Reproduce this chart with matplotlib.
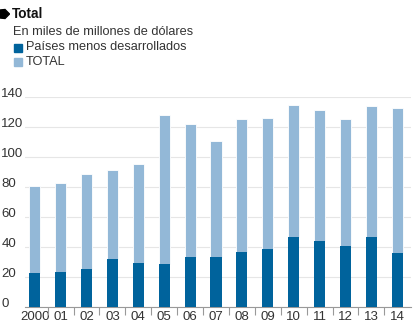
import numpy as np
import matplotlib.pyplot as plt
from matplotlib.patches import Rectangle, Polygon

plt.rcParams['font.family'] = ['Liberation Sans', 'DejaVu Sans']

years = ['2000', '01', '02', '03', '04', '05', '06', '07', '08', '09', '10', '11', '12', '13', '14']
total = [80.7, 82.7, 88.9, 91.2, 95.4, 128.2, 122.4, 110.6, 125.3, 126.4, 134.9, 131.5, 125.7, 134.2, 132.6]
pmd = [22.3, 23.4, 25.4, 31.7, 29.4, 28.8, 33.4, 33.2, 36.8, 38.6, 46.6, 44.1, 40.8, 46.4, 35.9]
yticks = [0, 20, 40, 60, 80, 100, 120, 140]

dark = '#00639c'
light = '#93b8d7'

fig = plt.figure(figsize=(4.14, 3.33), dpi=100)
ax = fig.add_axes([25/414, 1 - 306.7/333, 385.5/414, (306.7 - 97.3)/333])

x = np.arange(len(years))
rest = np.array(total) - np.array(pmd)
ax.bar(x, pmd, width=0.43, color=dark, zorder=3)
ax.bar(x, rest, bottom=pmd, width=0.43, color=light, edgecolor='white', linewidth=0.6, zorder=2)

ax.set_xlim(-0.375, 14.51)
ax.set_ylim(0, 140)
ax.set_yticks(yticks)
ax.yaxis.grid(True, color='#e6e6e6', linewidth=0.8, zorder=0)
ax.set_axisbelow(True)
for s in ['top', 'right', 'left']:
    ax.spines[s].set_visible(False)
ax.spines['bottom'].set_color('#999999')
ax.spines['bottom'].set_linewidth(0.8)

ax.tick_params(axis='y', length=0, pad=17, labelsize=9.5, labelcolor='#333333')
for lab in ax.get_yticklabels():
    lab.set_horizontalalignment('left')
    lab.set_verticalalignment('baseline')

ax.set_xticks(x)
ax.set_xticklabels(years)
ax.tick_params(axis='x', length=0, pad=3, labelsize=9.5, labelcolor='#333333')
ax.set_xticks(x[:-1] + 0.5, minor=True)
ax.tick_params(axis='x', which='minor', length=6, color='#999999', width=0.8)

# header
fig.patches.append(Polygon([[0/414, 1-10/333], [5/414, 1-9.5/333], [9.5/414, 1-14/333],
                            [5/414, 1-18.5/333], [0/414, 1-18/333]],
                           closed=True, transform=fig.transFigure, color='black'))
fig.text(12/414, 1 - 14/333, 'Total', fontsize=9.8, fontweight='bold', va='center', color='#111111')
fig.text(13/414, 1 - 32/333, 'En miles de millones de dólares', fontsize=9.2, va='center', color='#333333')
fig.patches.append(Rectangle((14/414, 1 - 52/333), 8/414, 8/333, transform=fig.transFigure, color=dark))
fig.text(26/414, 1 - 47.5/333, 'Países menos desarrollados', fontsize=9.2, va='center', color='#333333')
fig.patches.append(Rectangle((14/414, 1 - 66/333), 8/414, 8/333, transform=fig.transFigure, color=light))
fig.text(26/414, 1 - 62/333, 'TOTAL', fontsize=9.2, va='center', color='#333333')

fig.savefig('out.png', dpi=100)
